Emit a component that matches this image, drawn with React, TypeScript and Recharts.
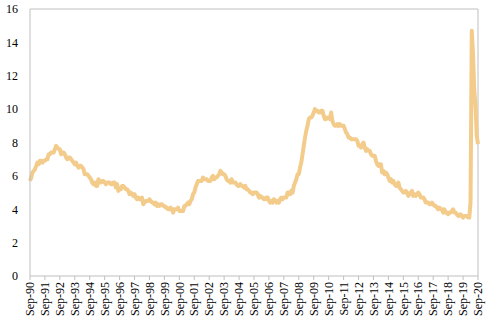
import React from "react";
import { LineChart, Line, XAxis, YAxis, ReferenceLine } from "recharts";

const monthNames = ["Jan", "Feb", "Mar", "Apr", "May", "Jun", "Jul", "Aug", "Sep", "Oct", "Nov", "Dec"];

// Unemployment rate (%), monthly, Sep 1990 - Sep 2020
const y1990 = [5.7, 5.9, 6.2, 6.3]; // Sep-Dec
const y1991 = [6.4, 6.6, 6.8, 6.7, 6.9, 6.9, 6.8, 6.9, 6.9, 7.0, 7.0, 7.3];
const y1992 = [7.3, 7.4, 7.4, 7.4, 7.6, 7.8, 7.7, 7.6, 7.6, 7.3, 7.4, 7.4];
const y1993 = [7.3, 7.1, 7.0, 7.1, 7.1, 7.0, 6.9, 6.8, 6.7, 6.8, 6.6, 6.5];
const y1994 = [6.6, 6.6, 6.5, 6.4, 6.1, 6.1, 6.1, 6.0, 5.9, 5.8, 5.6, 5.5];
const y1995 = [5.6, 5.4, 5.4, 5.8, 5.6, 5.6, 5.7, 5.7, 5.6, 5.5, 5.6, 5.6];
const y1996 = [5.6, 5.5, 5.5, 5.6, 5.6, 5.3, 5.5, 5.1, 5.2, 5.2, 5.4, 5.4];
const y1997 = [5.3, 5.2, 5.2, 5.1, 4.9, 5.0, 4.9, 4.8, 4.9, 4.7, 4.6, 4.7];
const y1998 = [4.6, 4.6, 4.7, 4.3, 4.4, 4.5, 4.5, 4.5, 4.6, 4.5, 4.4, 4.4];
const y1999 = [4.3, 4.4, 4.2, 4.3, 4.2, 4.3, 4.3, 4.2, 4.2, 4.1, 4.1, 4.0];
const y2000 = [4.0, 4.1, 4.0, 3.8, 4.0, 4.0, 4.0, 4.1, 3.9, 3.9, 3.9, 3.9];
const y2001 = [4.2, 4.2, 4.3, 4.4, 4.3, 4.5, 4.6, 4.9, 5.0, 5.3, 5.5, 5.7];
const y2002 = [5.7, 5.7, 5.7, 5.9, 5.8, 5.8, 5.8, 5.7, 5.7, 5.7, 5.9, 6.0];
const y2003 = [5.8, 5.9, 5.9, 6.0, 6.1, 6.3, 6.2, 6.1, 6.1, 6.0, 5.8, 5.7];
const y2004 = [5.7, 5.6, 5.8, 5.6, 5.6, 5.6, 5.5, 5.4, 5.4, 5.5, 5.4, 5.4];
const y2005 = [5.3, 5.4, 5.2, 5.2, 5.1, 5.0, 5.0, 4.9, 5.0, 5.0, 5.0, 4.9];
const y2006 = [4.7, 4.8, 4.7, 4.7, 4.6, 4.6, 4.7, 4.7, 4.5, 4.4, 4.5, 4.4];
const y2007 = [4.6, 4.5, 4.4, 4.5, 4.4, 4.6, 4.7, 4.6, 4.7, 4.7, 4.7, 5.0];
const y2008 = [5.0, 4.9, 5.1, 5.0, 5.4, 5.6, 5.8, 6.1, 6.1, 6.5, 6.8, 7.3];
const y2009 = [7.8, 8.3, 8.7, 9.0, 9.4, 9.5, 9.5, 9.6, 9.8, 10.0, 9.9, 9.9];
const y2010 = [9.8, 9.8, 9.9, 9.9, 9.6, 9.4, 9.4, 9.5, 9.5, 9.4, 9.8, 9.3];
const y2011 = [9.1, 9.0, 9.0, 9.1, 9.0, 9.1, 9.0, 9.0, 9.0, 8.8, 8.6, 8.5];
const y2012 = [8.3, 8.3, 8.2, 8.2, 8.2, 8.2, 8.2, 8.1, 7.8, 7.8, 7.7, 7.9];
const y2013 = [8.0, 7.7, 7.5, 7.6, 7.5, 7.5, 7.3, 7.2, 7.2, 7.2, 6.9, 6.7];
const y2014 = [6.6, 6.7, 6.7, 6.2, 6.3, 6.1, 6.2, 6.1, 5.9, 5.7, 5.8, 5.6];
const y2015 = [5.7, 5.5, 5.4, 5.4, 5.6, 5.3, 5.2, 5.1, 5.0, 5.0, 5.1, 5.0];
const y2016 = [4.8, 4.9, 5.0, 5.1, 4.8, 4.9, 4.8, 4.9, 5.0, 4.9, 4.7, 4.7];
const y2017 = [4.7, 4.6, 4.4, 4.4, 4.4, 4.3, 4.3, 4.4, 4.3, 4.2, 4.2, 4.1];
const y2018 = [4.0, 4.1, 4.0, 4.0, 3.8, 4.0, 3.8, 3.8, 3.7, 3.8, 3.8, 3.9];
const y2019 = [4.0, 3.8, 3.8, 3.7, 3.6, 3.6, 3.7, 3.6, 3.5, 3.6, 3.6, 3.6];
const y2020 = [3.5, 3.5, 4.4, 14.7, 13.3, 11.1, 10.2, 8.4, 7.9]; // Jan-Sep

const yearSeries = [
  y1990, y1991, y1992, y1993, y1994, y1995, y1996, y1997, y1998, y1999, y2000,
  y2001, y2002, y2003, y2004, y2005, y2006, y2007, y2008, y2009, y2010,
  y2011, y2012, y2013, y2014, y2015, y2016, y2017, y2018, y2019, y2020,
];

const yTicks = [0, 2, 4, 6, 8, 10, 12, 14, 16];

const data: { month: string; rate: number }[] = [];
yearSeries.forEach((vals, i) => {
  const year = 1990 + i;
  const startMonth = i === 0 ? 8 : 0;
  vals.forEach((v, j) => {
    const m = startMonth + j;
    data.push({ month: `${monthNames[m]}-${String(year % 100).padStart(2, "0")}`, rate: v });
  });
});

const FONT = "'Liberation Serif', 'DejaVu Serif', serif";
const AXIS = "#BFBFBF";

const XTick = (props: any) => {
  const { x, y, payload } = props;
  return (
    <g transform={`translate(${x},${y})`}>
      <text
        transform="rotate(-90)"
        x={0}
        y={0}
        dy="0.35em"
        textAnchor="end"
        fontSize={12}
        fontFamily={FONT}
        fill="#000"
      >
        {payload.value}
      </text>
    </g>
  );
};

export default function App() {
  return (
    <div style={{ position: "absolute", left: 0, top: 0, width: 488, height: 331, background: "#fff" }}>
      <LineChart width={488} height={331} data={data} margin={{ top: 9, right: 10, left: 0, bottom: 0 }}>
        <XAxis
          dataKey="month"
          interval={11}
          height={55}
          stroke={AXIS}
          tickSize={4}
          tickMargin={2}
          tick={<XTick />}
        />
        <YAxis
          domain={[0, 16]}
          ticks={yTicks}
          width={30}
          stroke={AXIS}
          tickLine={false}
          tickMargin={6}
          tick={{ fill: "#000", fontSize: 12, fontFamily: FONT }}
        />
        <ReferenceLine y={16} stroke={AXIS} strokeWidth={1} />
        <ReferenceLine x="Sep-20" stroke={AXIS} strokeWidth={1} />
        <Line
          type="linear"
          dataKey="rate"
          stroke="#F3CB8B"
          strokeWidth={4}
          dot={false}
          strokeLinejoin="round"
          isAnimationActive={false}
        />
      </LineChart>
    </div>
  );
}
